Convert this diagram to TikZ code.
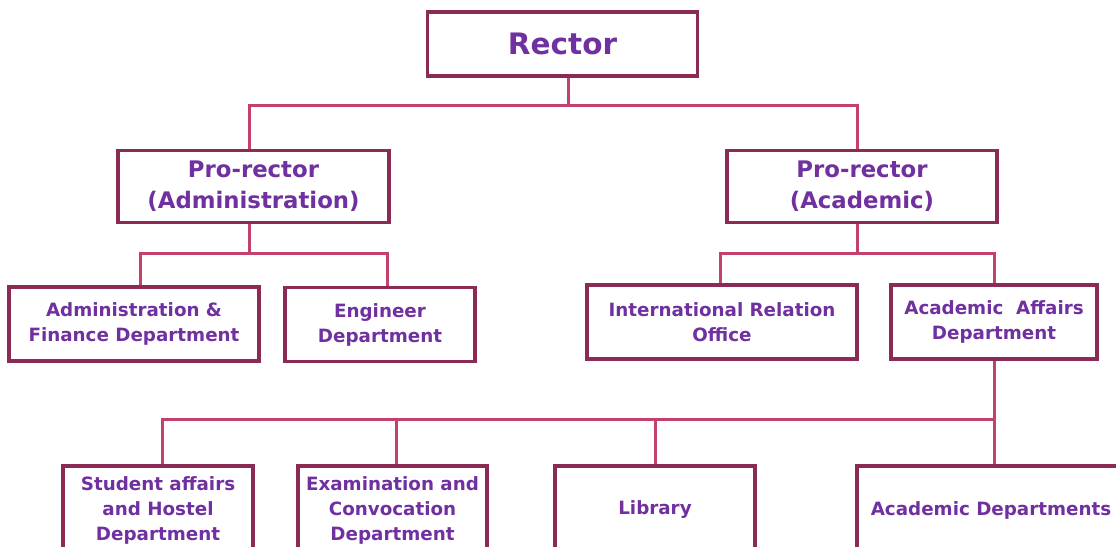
\documentclass[tikz,border=0pt]{standalone}
\usepackage{fontspec}
\setmainfont{DejaVu Sans}
\definecolor{boxline}{RGB}{139,42,84}
\definecolor{linkline}{RGB}{194,66,108}
\definecolor{unittext}{RGB}{112,48,160}
\tikzset{
  unit/.style={draw=boxline, line width=3.2pt, fill=white, text=unittext,
    font=\bfseries\fontsize{18.3}{25}\selectfont, align=center, inner sep=0pt},
  link/.style={draw=linkline, line width=3pt},
}
\begin{document}
\begin{tikzpicture}[x=1pt,y=-1pt]
\useasboundingbox (0,0) rectangle (1116,546);
\clip (0,0) rectangle (1116,546);
%%% top of the tree
\node[unit, minimum width=270, minimum height=64, font=\bfseries\fontsize{29.5}{36}\selectfont] (rector) at (562.5,44) {Rector};
%%% the two pro-rectors
\node[unit, minimum width=271, minimum height=72, font=\bfseries\fontsize{22.8}{31}\selectfont] (proadm) at (253.5,186.5) {Pro-rector\\(Administration)};
\node[unit, minimum width=270, minimum height=72, font=\bfseries\fontsize{22.8}{31}\selectfont] (proacad) at (862,186.5) {Pro-rector\\(Academic)};
%%% offices under the pro-rectors
\node[unit, minimum width=250, minimum height=74] (afd) at (134,324) {Administration \&\\Finance Department};
\node[unit, minimum width=190, minimum height=74] (eng) at (380,324.5) {Engineer\\Department};
\node[unit, minimum width=270, minimum height=74] (iro) at (722,322) {International Relation\\Office};
\node[unit, minimum width=206, minimum height=74] (aad) at (994,322) {Academic~ Affairs\\Department};
%%% departments under academic affairs
\node[unit, minimum width=190, minimum height=88] (stud) at (158,510) {Student affairs\\and Hostel\\Department};
\node[unit, minimum width=189, minimum height=88] (exam) at (392.5,510) {Examination and\\Convocation\\Department};
\node[unit, minimum width=200, minimum height=88] (lib) at (655,510) {Library};
\node[unit, minimum width=268, minimum height=88] (acdep) at (991,510) {Academic Departments};
%%% connectors
\draw[link] ([xshift=6]rector.south) -- ++(0,28) coordinate (bar0);
\draw[link] (bar0) -| ([xshift=-4]proadm.north);
\draw[link] (bar0) -| ([xshift=-5]proacad.north);
%
\draw[link] ([xshift=-4]proadm.south) -- ++(0,29) coordinate (bar1);
\draw[link] (bar1) -| ([xshift=6]afd.north);
\draw[link] (bar1) -| ([xshift=7]eng.north);
%
\draw[link] ([xshift=-5]proacad.south) -- ++(0,29) coordinate (bar2);
\draw[link] (bar2) -| ([xshift=-2]iro.north);
\draw[link] (bar2) -| (aad.north);
%
\draw[link] (aad.south) -- ++(0,59) coordinate (bar3);
\draw[link] (bar3) -- ([xshift=3]acdep.north);
\draw[link] (bar3) -| (lib.north);
\draw[link] (bar3) -| ([xshift=4]exam.north);
\draw[link] (bar3) -| ([xshift=4]stud.north);
\end{tikzpicture}
\end{document}
